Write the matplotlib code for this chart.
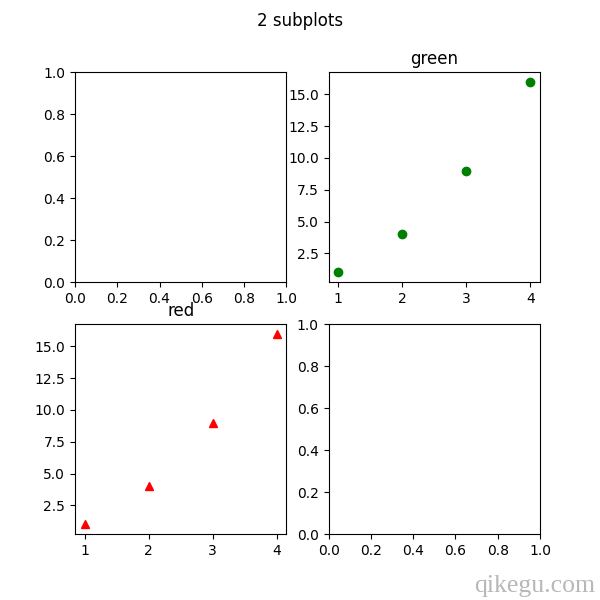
import matplotlib
matplotlib.use("Agg")
import matplotlib.pyplot as plt

x = [1, 2, 3, 4]
y = [1, 4, 9, 16]

fig, axes = plt.subplots(2, 2, figsize=(6, 6), dpi=100)
fig.suptitle('2 subplots')

axes[0, 1].plot(x, y, 'go')
axes[0, 1].set_title('green')

axes[1, 0].plot(x, y, 'r^')
axes[1, 0].set_title('red')

# watermark
fig.text(0.992, 0.013, 'qikegu.com', ha='right', va='baseline', fontsize=18.5,
         color='#b8b8b8', family='Liberation Serif')

fig.savefig('out.png')
